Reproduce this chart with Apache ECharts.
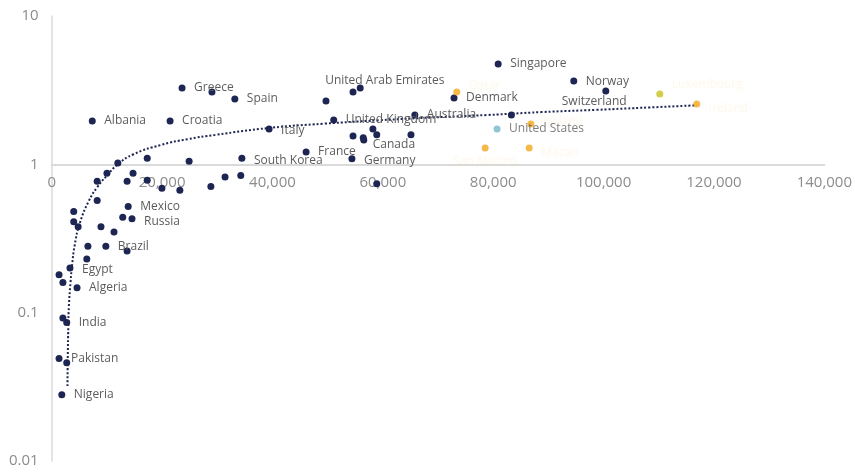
<!DOCTYPE html>
<html>
<head>
<meta charset="utf-8">
<script src="https://cdn.jsdelivr.net/npm/echarts@6/dist/echarts.min.js"></script>
<style>
  html, body { margin: 0; padding: 0; background: #ffffff; }
  #chart { width: 855px; height: 472px; }
</style>
</head>
<body>
<div id="chart"></div>
<script>
// Countries: GDP per capita (US$) against the ratio on a log scale.
// An empty name means the point is drawn without a label.
const countries = [
  'Singapore', 'Norway', 'Switzerland', 'Denmark', 'Australia', '',
  'United Arab Emirates', '', '', 'United Kingdom', '', '', 'Canada', '', '', '',
  'France', 'Germany', '', 'Greece', '', 'Spain', 'Albania', 'Croatia', 'Italy',
  'South Korea', '', '', '', '', '', '', '', '', '', '', '', '', '',
  'Mexico', 'Russia', '', '', '', '', '', '', '', '', 'Brazil', '', '',
  'Egypt', '', '', 'Algeria', '', 'India', 'Pakistan', '', 'Nigeria'
];
const gdpPerCapita = [
  80900, 94600, 100400, 72900, 65800, 83300,
  55900, 54600, 49700, 51100, 54600, 56450, 56550, 58200, 58900, 65100,
  46100, 54400, 58900, 23620, 29040, 33180, 7350, 21450, 39390,
  34460, 24900, 17310, 11980, 10010, 8240, 14740, 13660, 17310, 19970, 23220, 28840, 31410, 34260,
  13860, 14550, 12870, 8240, 3990, 3990, 4790, 8930, 11290, 6560, 9810, 13660, 6360,
  3310, 1330, 2030, 4590, 2030, 2720, 1330, 2720, 1830
];
const ratio = [
  4.75, 3.64, 3.12, 2.80, 2.15, 2.15,
  3.27, 3.07, 2.67, 1.99, 1.55, 1.51, 1.46, 1.73, 1.58, 1.58,
  1.21, 1.09, 0.74, 3.27, 3.07, 2.76, 1.96, 1.96, 1.73,
  1.10, 1.05, 1.10, 1.02, 0.87, 0.77, 0.87, 0.77, 0.78, 0.69, 0.67, 0.71, 0.82, 0.84,
  0.52, 0.43, 0.44, 0.57, 0.48, 0.41, 0.38, 0.38, 0.35, 0.28, 0.28, 0.26, 0.23,
  0.20, 0.18, 0.16, 0.147, 0.092, 0.086, 0.049, 0.046, 0.028
];

// Highlighted small high-income economies (faint labels)
const highlightNames = ['Qatar', 'Iceland', 'San Marino', 'Macao', 'Luxembourg', 'Ireland'];
const highlightGdp = [73400, 86820, 78540, 86520, 110180, 116890];
const highlightRatio = [3.07, 1.87, 1.29, 1.29, 2.98, 2.55];

// United States, shown in its own colour
const usName = 'United States';
const usGdp = 80700;
const usRatio = 1.73;

// Logarithmic trend line
const trendGdp = [
  2860, 2910, 3010, 3110, 3410, 3700, 4200, 5080, 6660, 8240, 10010, 11980,
  14840, 19770, 24700, 29630, 39490, 49350, 59210, 69070, 78930, 88790,
  98650, 108500, 116890
];
const trendRatio = [
  0.032, 0.05, 0.08, 0.11, 0.16, 0.21, 0.29, 0.40, 0.56, 0.70, 0.84, 1.00,
  1.17, 1.35, 1.48, 1.58, 1.76, 1.88, 1.98, 2.07, 2.15, 2.25,
  2.33, 2.42, 2.50
];

// Axis ticks
const xTicks = { min: 0, max: 140000, interval: 20000 };
const yTicks = { min: 0.01, max: 10 };

// ---- styling ----
const FONT = 'Open Sans';
const NAVY = '#1d2553';
const LABEL_GREY = '#5c5c5c';
const AXIS_GREY = '#8c8c8c';
const LINE_GREY = '#dadada';
const GRID = { left: 51.7, right: 30.5, top: 16, bottom: 11 };
const CHART_H = 472;
const plotH = CHART_H - GRID.top - GRID.bottom;
// x axis sits on the ratio = 1 line, two decades above the bottom of the plot
const xAxisOffset = -plotH * 2 / 3;

// label placement adjustments, keyed by country
const labelPlacement = {
  'United Arab Emirates': { offset: [-47, -7] },
  'Switzerland': { offset: [-56, 11] },
  'Canada': { offset: [-3, 5] },
  'Italy': { offset: [0, 2] },
  'South Korea': { offset: [0, 2] },
  'Germany': { offset: [0, 2] },
  'Russia': { offset: [0, 3] },
  'Egypt': { offset: [0, 2] },
  'Qatar': { offset: [0, -6] },
  'Iceland': { offset: [0, -2] },
  'San Marino': { position: 'bottom', distance: 4, offset: [0, 0] },
  'Macao': { offset: [0, 5] },
  'Luxembourg': { offset: [0, -9] },
  'Ireland': { offset: [0, 5] }
};

function labelFor(name, extra) {
  if (!name) return { show: false };
  const p = labelPlacement[name] || {};
  return Object.assign({
    show: true,
    position: p.position || 'right',
    distance: p.distance != null ? p.distance : 8.5,
    offset: p.offset || [0, 0],
    formatter: '{b}',
    fontFamily: FONT,
    fontSize: 12,
    color: LABEL_GREY
  }, extra || {});
}

const mainData = countries.map((name, i) => ({
  name: name,
  value: [gdpPerCapita[i], ratio[i]],
  label: labelFor(name)
}));

// faded, soft labels for the highlighted points
const faintLabel = {
  color: 'rgba(240, 212, 130, 0.16)',
  textShadowColor: 'rgba(240, 212, 130, 0.7)',
  textShadowBlur: 7
};
const highlightColors = ['#f2a71b', '#f2a71b', '#f2a71b', '#f2a71b', '#c9c01f', '#f2a71b'];
const highlightData = highlightNames.map((name, i) => ({
  name: name,
  value: [highlightGdp[i], highlightRatio[i]],
  itemStyle: { color: highlightColors[i] },
  label: labelFor(name, faintLabel)
}));

const usData = [{
  name: usName,
  value: [usGdp, usRatio],
  label: labelFor(usName)
}];

const trendData = trendGdp.map((g, i) => [g, trendRatio[i]]);

const chart = echarts.init(document.getElementById('chart'), null, { renderer: 'canvas' });
chart.setOption({
  backgroundColor: '#ffffff',
  animation: false,
  textStyle: { fontFamily: FONT },
  grid: GRID,
  xAxis: {
    type: 'value',
    min: xTicks.min,
    max: xTicks.max,
    interval: xTicks.interval,
    offset: xAxisOffset,
    axisLine: { show: true, onZero: false, lineStyle: { color: LINE_GREY, width: 2 } },
    axisTick: { show: false },
    splitLine: { show: false },
    axisLabel: {
      color: AXIS_GREY,
      fontFamily: FONT,
      fontSize: 15,
      margin: 11,
      formatter: v => v.toLocaleString('en-US')
    }
  },
  yAxis: {
    type: 'log',
    logBase: 10,
    min: yTicks.min,
    max: yTicks.max,
    axisLine: { show: true, lineStyle: { color: LINE_GREY, width: 1.5 } },
    axisTick: { show: false },
    splitLine: { show: false },
    axisLabel: {
      color: AXIS_GREY,
      fontFamily: FONT,
      fontSize: 15,
      margin: 13,
      formatter: v => String(parseFloat(Number(v).toPrecision(2)))
    }
  },
  series: [
    {
      name: 'trend',
      type: 'line',
      data: trendData,
      smooth: true,
      showSymbol: false,
      silent: true,
      z: 3,
      lineStyle: { color: NAVY, width: 2, type: [2, 2] }
    },
    {
      name: 'countries',
      type: 'scatter',
      data: mainData,
      symbolSize: 7,
      z: 4,
      itemStyle: { color: NAVY, opacity: 1 }
    },
    {
      name: 'highlight',
      type: 'scatter',
      data: highlightData,
      symbolSize: 7,
      z: 4
    },
    {
      name: 'us',
      type: 'scatter',
      data: usData,
      symbolSize: 7,
      z: 4,
      itemStyle: { color: '#74b6cc' }
    }
  ]
});
</script>
</body>
</html>
